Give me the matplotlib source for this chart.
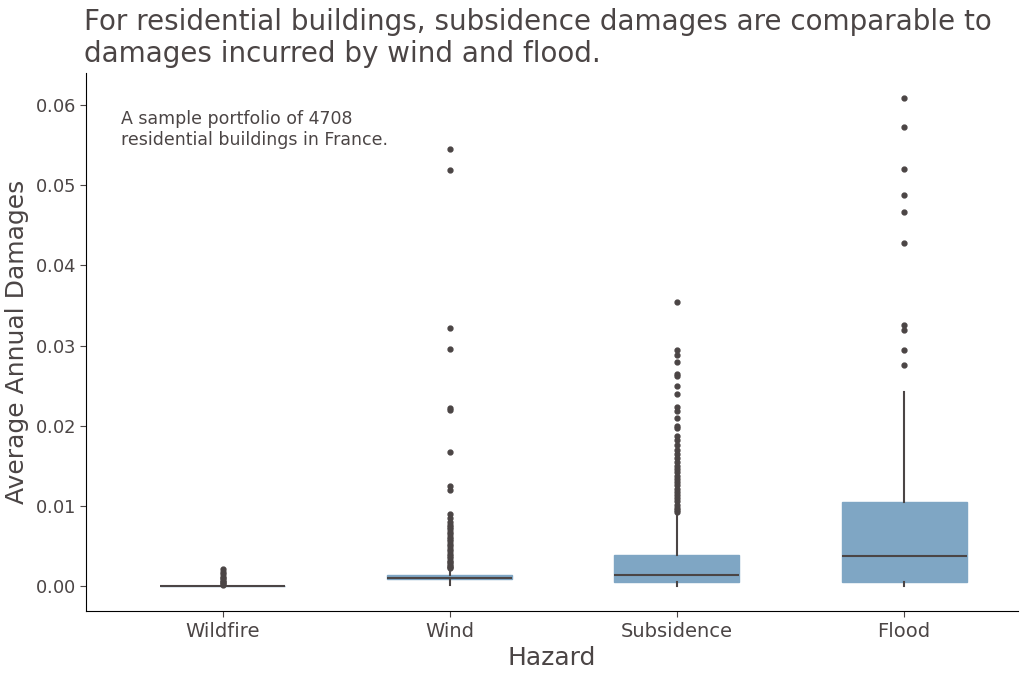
import matplotlib.pyplot as plt

hazards = ['Wildfire', 'Wind', 'Subsidence', 'Flood']
q1 = [0.0, 0.0009, 0.0005, 0.0006]
median = [0.00002, 0.0010, 0.0014, 0.0038]
q3 = [0.00005, 0.0014, 0.0039, 0.0105]
whisk_lo = [0.0, 0.0002, 0.0, 0.0001]
whisk_hi = [0.0001, 0.0022, 0.0092, 0.0242]
fliers = [
    [0.0022, 0.0018, 0.0015, 0.0012, 0.0010, 0.0008, 0.0006, 0.0005, 0.0003, 0.0002],
    [0.0545, 0.0519, 0.0322, 0.0296, 0.0222, 0.0220, 0.0168, 0.0125, 0.0120,
     0.0090, 0.0085, 0.0080, 0.0077, 0.0074, 0.0071, 0.0068, 0.0065, 0.0062,
     0.0059, 0.0056, 0.0053, 0.0050, 0.0047, 0.0044, 0.0041, 0.0038, 0.0035,
     0.0032, 0.0030, 0.0028, 0.0026, 0.0024, 0.0023],
    [0.0355, 0.0294, 0.0288, 0.0280, 0.0265, 0.0262, 0.0250, 0.0240, 0.0223,
     0.0218, 0.0210, 0.0200, 0.0197, 0.0188, 0.0182, 0.0176, 0.0170, 0.0165,
     0.0160, 0.0155, 0.0150, 0.0146, 0.0142, 0.0138, 0.0134, 0.0130, 0.0126,
     0.0122, 0.0118, 0.0114, 0.0110, 0.0106, 0.0102, 0.0098, 0.0095, 0.0093],
    [0.0609, 0.0572, 0.0520, 0.0488, 0.0466, 0.0428, 0.0326, 0.0319, 0.0295, 0.0276],
]

dark = '#4b4545'
stats = []
for i, h in enumerate(hazards):
    stats.append(dict(label=h, q1=q1[i], med=median[i], q3=q3[i],
                      whislo=whisk_lo[i], whishi=whisk_hi[i], fliers=fliers[i]))

fig = plt.figure(figsize=(10.26, 6.8), dpi=100)
ax = fig.add_axes([0.084, 0.101, 0.908, 0.792])
ax.bxp(stats, widths=0.55, patch_artist=True, showcaps=False,
       boxprops=dict(facecolor='#7fa6c4', edgecolor='#7fa6c4'),
       medianprops=dict(color=dark, lw=1.5),
       whiskerprops=dict(color=dark, lw=1.5),
       flierprops=dict(marker='o', markersize=3.5, markerfacecolor=dark,
                       markeredgecolor=dark))

ax.set_ylim(-0.0031, 0.064)
ax.set_xlim(0.4, 4.5)
ax.set_yticks([0.0, 0.01, 0.02, 0.03, 0.04, 0.05, 0.06])
ax.set_yticklabels(['$0.00$', '$0.01$', '$0.02$', '$0.03$', '$0.04$', '$0.05$', '$0.06$'])
ax.tick_params(labelsize=13, colors=dark, length=4)
ax.tick_params(axis='x', labelsize=14)
for s in ['top', 'right']:
    ax.spines[s].set_visible(False)
ax.set_xlabel('Hazard', fontsize=18, color=dark)
ax.set_ylabel('Average Annual Damages', fontsize=18, color=dark)
ax.text(0.037, 0.93, 'A sample portfolio of 4708\nresidential buildings in France.',
        transform=ax.transAxes, fontsize=12.5, color=dark, va='top')
fig.text(0.082, 0.9, 'For residential buildings, subsidence damages are comparable to\n'
         'damages incurred by wind and flood.', fontsize=20, color=dark, va='bottom')
plt.rcParams['mathtext.fontset'] = 'cm'
fig.savefig('out.png')
